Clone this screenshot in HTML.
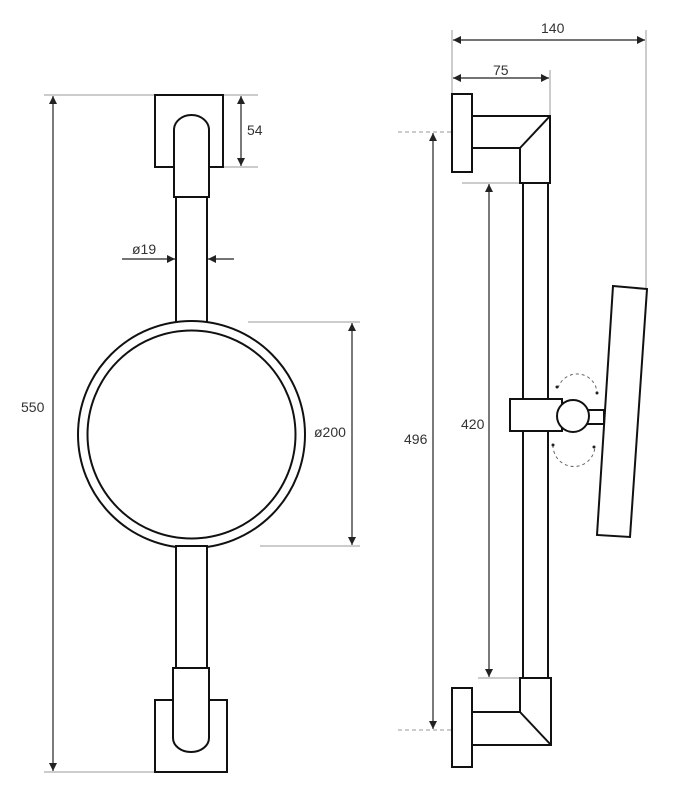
<!DOCTYPE html>
<html><head><style>body{margin:0;background:#fff}svg{display:block}text{font-family:"Liberation Sans",sans-serif;font-size:14px;fill:#333}</style></head><body>
<svg width="674" height="799" viewBox="0 0 674 799">
<defs>
<marker id="a" viewBox="0 0 10 10" refX="10" refY="5" markerWidth="8" markerHeight="8" orient="auto-start-reverse" markerUnits="userSpaceOnUse"><path d="M0,0 L10,5 L0,10z" fill="#222"/></marker>
</defs>
<g fill="none" stroke="#999" stroke-width="1">
<line x1="44" y1="95" x2="258" y2="95"/><line x1="44" y1="772" x2="155" y2="772"/>
<line x1="223" y1="167" x2="258" y2="167"/>
<line x1="248" y1="322" x2="360" y2="322"/><line x1="260" y1="546" x2="360" y2="546"/>
<line x1="646" y1="30" x2="646" y2="289"/><line x1="452" y1="30" x2="452" y2="94"/>
<line x1="550" y1="70" x2="550" y2="116"/>
<line x1="462" y1="183" x2="520" y2="183"/><line x1="478" y1="678" x2="520" y2="678"/>
<line x1="398" y1="132" x2="452" y2="132" stroke-dasharray="4,3"/><line x1="398" y1="730" x2="452" y2="730" stroke-dasharray="4,3"/>
</g>
<g stroke="#222" stroke-width="1.2" fill="none" marker-start="url(#a)" marker-end="url(#a)">
<line x1="53" y1="96" x2="53" y2="771"/>
<line x1="241" y1="96" x2="241" y2="166"/>
<line x1="352" y1="323" x2="352" y2="545"/>
<line x1="453" y1="40" x2="645" y2="40"/>
<line x1="453" y1="78" x2="549" y2="78"/>
<line x1="433" y1="133" x2="433" y2="729"/>
<line x1="489" y1="184" x2="489" y2="677"/>
</g>
<g stroke="#222" stroke-width="1.2">
<line x1="122" y1="259" x2="175" y2="259" marker-end="url(#a)"/>
<line x1="234" y1="259" x2="208" y2="259" marker-end="url(#a)"/>
</g>
<g fill="#fff" stroke="#111" stroke-width="2">
<rect x="155" y="95" width="68" height="72"/>
<rect x="176" y="197" width="31" height="126"/>
<path d="M174,197 V130 A17.5,15 0 0 1 209,130 V197 Z"/>
<circle cx="191.5" cy="434.5" r="113.5"/>
<circle cx="191.5" cy="434.5" r="104"/>
<rect x="155" y="700" width="72" height="72"/>
<rect x="176" y="546" width="31" height="122"/>
<path d="M173,668 V738 A18,14 0 0 0 209,738 V668 Z"/>
<rect x="523" y="183" width="25" height="495"/>
<rect x="452" y="94" width="20" height="78"/>
<path d="M472,116 H550 V183 H520 V148 H472 Z"/><line x1="550" y1="116" x2="520" y2="148"/>
<rect x="452" y="688" width="20" height="79"/>
<path d="M520,678 H551 V745 H472 V712 H520 Z"/><line x1="520" y1="712" x2="551" y2="745"/>
<polygon points="613,286 647,289 630,537 597,535"/>
<rect x="510" y="399" width="52" height="32"/>
<rect x="587" y="410" width="17" height="14"/>
<circle cx="573" cy="416" r="16"/>
</g>
<g fill="none" stroke="#666" stroke-width="1" stroke-dasharray="3,3">
<path d="M558,388 A20,20 0 0 1 597,392"/>
<path d="M553,445 A20,20 0 0 0 595,446"/>
</g>
<g fill="#222"><circle cx="557" cy="387" r="1.5"/><circle cx="597" cy="393" r="1.5"/><circle cx="553" cy="445" r="1.5"/><circle cx="594" cy="447" r="1.5"/></g>
<text x="21" y="412">550</text>
<text x="247" y="135">54</text>
<text x="132" y="254">ø19</text>
<text x="314" y="437">ø200</text>
<text x="541" y="33">140</text>
<text x="493" y="75">75</text>
<text x="404" y="444">496</text>
<text x="461" y="429">420</text>
</svg>
</body></html>
